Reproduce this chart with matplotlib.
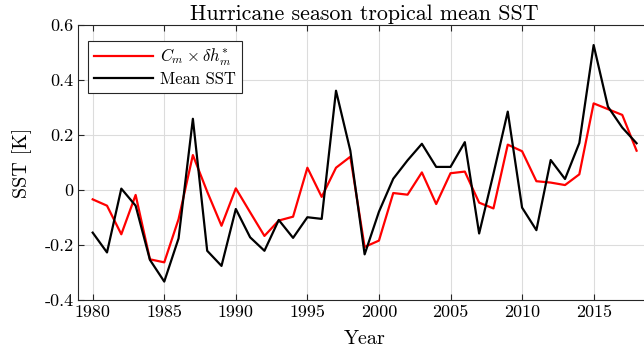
import matplotlib
matplotlib.use('Agg')
import matplotlib.pyplot as plt
from matplotlib.ticker import FuncFormatter

plt.rcParams['font.family'] = 'serif'
plt.rcParams['font.serif'] = ['cmr10']
plt.rcParams['mathtext.fontset'] = 'cm'
plt.rcParams['axes.unicode_minus'] = False

years = list(range(1980, 2019))

# C_m x delta h_m^*
cm_dh = [-0.033, -0.056, -0.160, -0.017, -0.251, -0.262, -0.105, 0.128, -0.005, -0.129,
         0.007, -0.080, -0.166, -0.110, -0.096, 0.082, -0.024, 0.082, 0.122, -0.206,
         -0.183, -0.010, -0.016, 0.065, -0.050, 0.062, 0.068, -0.045, -0.066, 0.166,
         0.142, 0.033, 0.028, 0.019, 0.058, 0.316, 0.295, 0.274, 0.144]

# mean SST
mean_sst = [-0.154, -0.226, 0.006, -0.056, -0.253, -0.332, -0.175, 0.260, -0.220, -0.275,
            -0.068, -0.171, -0.220, -0.108, -0.173, -0.098, -0.104, 0.362, 0.144, -0.233,
            -0.078, 0.042, 0.109, 0.169, 0.085, 0.085, 0.175, -0.157, 0.060, 0.286,
            -0.063, -0.145, 0.110, 0.041, 0.172, 0.528, 0.304, 0.228, 0.171]

x_ticks = [1980, 1985, 1990, 1995, 2000, 2005, 2010, 2015]
y_ticks = [-0.4, -0.2, 0, 0.2, 0.4, 0.6]

fig = plt.figure(figsize=(6.44, 3.56), dpi=100)
# axes run slightly past the right edge of the figure, as in the original
ax = fig.add_axes([0.1217, 0.1565, 0.889, 0.7725])

ax.plot(years, cm_dh, color='#ff0000', linewidth=1.6,
        label=r'$C_m \times \delta h_m^{*}$')
ax.plot(years, mean_sst, color='black', linewidth=1.6, label='Mean SST')

ax.set_xlim(1979, 2019)
ax.set_ylim(-0.4, 0.6)
ax.set_xticks(x_ticks)
ax.set_yticks(y_ticks)
ax.yaxis.set_major_formatter(FuncFormatter(lambda v, p: '%g' % round(v, 2)))

ax.grid(True, color='#dcdcdc', linewidth=0.8)
ax.set_axisbelow(True)
ax.tick_params(direction='in', length=4, width=0.8, labelsize=13,
               top=True, right=False, colors='#262626', labelcolor='black')
for side in ['left', 'bottom', 'top']:
    ax.spines[side].set_color('#262626')
    ax.spines[side].set_linewidth(0.8)
ax.spines['right'].set_visible(False)

ax.set_title('Hurricane season tropical mean SST', fontsize=15.8, pad=4)
ax.set_xlabel('Year', fontsize=14.5, labelpad=7)
ax.set_ylabel('SST [K]', fontsize=14.5, labelpad=9)

leg = ax.legend(loc='upper left', bbox_to_anchor=(0.0173, 0.944),
                borderaxespad=0, fontsize=12, handlelength=3.55,
                fancybox=False, framealpha=1, edgecolor='#262626',
                borderpad=0.35, labelspacing=0.25, handletextpad=0.4)
leg.get_frame().set_linewidth(0.8)

fig.savefig('out.png', dpi=100)
